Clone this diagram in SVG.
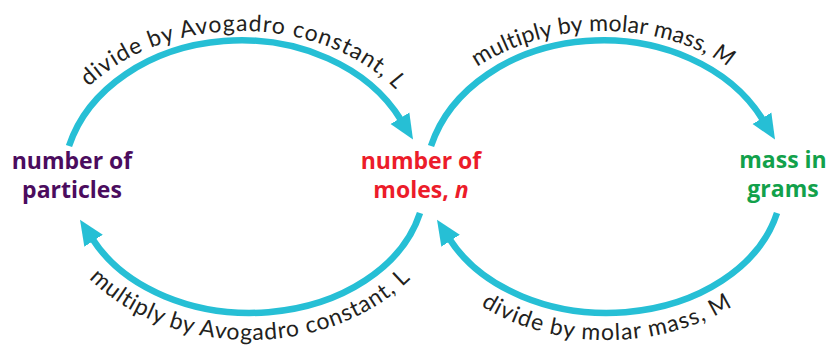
<svg xmlns="http://www.w3.org/2000/svg" width="829" height="348" viewBox="0 0 829 348">
  <style>
    .arc { fill: none; stroke: #26BFD5; stroke-width: 6.5; marker-end: url(#head); }
    .lbl { font-family: Lato, "Open Sans", "Liberation Sans", sans-serif; font-size: 23px; fill: #231F20; }
    .node { font-family: "Open Sans", "Liberation Sans", sans-serif; font-size: 23px; font-weight: 700; text-anchor: middle; }
    .purple { fill: #4B0C5E; }
    .red { fill: #EC1C2A; }
    .green { fill: #12A14B; }
  </style>
  <defs>
    <marker id="head" markerUnits="userSpaceOnUse" viewBox="0 -12 26 24" refX="2" refY="0" markerWidth="26" markerHeight="24" orient="auto">
      <path d="M0,-11 L25,0 L0,11 Z" fill="#26BFD5"/>
    </marker>
    <path id="tp1" d="M45,182 A196,151 0 0 1 437,182"/>
    <path id="tp2" d="M409,182 A194,151 0 0 1 797,182"/>
    <path id="tp3" d="M47,182 A203,158 0 0 0 453,182"/>
    <path id="tp4" d="M404,182 A203,158 0 0 0 810,182"/>
  </defs>

  <g id="connectors">
    <g id="particles-to-moles">
      <path class="arc" d="M69,146 A178,142 0 0 1 401,120"/>
      <text class="lbl" letter-spacing="1"><textPath href="#tp1" startOffset="50.5%" text-anchor="middle">divide by Avogadro constant, <tspan font-style="italic">L</tspan></textPath></text>
    </g>
    <g id="moles-to-mass">
      <path class="arc" d="M431,146 A178,142 0 0 1 763,120"/>
      <text class="lbl" letter-spacing="0.2"><textPath href="#tp2" startOffset="50%" text-anchor="middle">multiply by molar mass, <tspan font-style="italic">M</tspan></textPath></text>
    </g>
    <g id="moles-to-particles">
      <path class="arc" d="M420,213 A175,131 0 0 1 92.5,239"/>
      <text class="lbl" letter-spacing="0.8"><textPath href="#tp3" startOffset="50%" text-anchor="middle">multiply by Avogadro constant, L</textPath></text>
    </g>
    <g id="mass-to-moles">
      <path class="arc" d="M777,213 A175,131 0 0 1 449.5,239"/>
      <text class="lbl" letter-spacing="1"><textPath href="#tp4" startOffset="50%" text-anchor="middle">divide by molar mass, M</textPath></text>
    </g>
  </g>

  <g id="node-particles">
    <text class="node purple" x="72" y="169">number of</text>
    <text class="node purple" x="72" y="198">particles</text>
  </g>
  <g id="node-moles">
    <text class="node red" x="421" y="169">number of</text>
    <text class="node red" x="421" y="198">moles, <tspan font-style="italic">n</tspan></text>
  </g>
  <g id="node-mass">
    <text class="node green" x="783" y="168">mass in</text>
    <text class="node green" x="783" y="197">grams</text>
  </g>
</svg>
